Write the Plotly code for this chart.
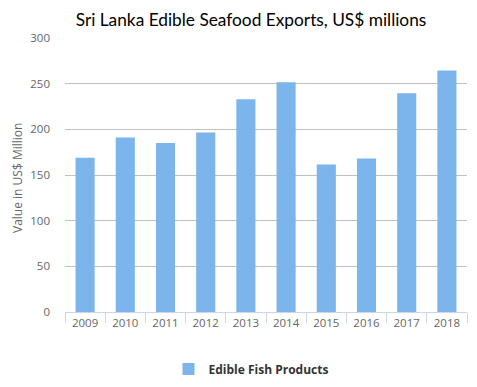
import plotly.graph_objects as go

years = ["2009", "2010", "2011", "2012", "2013", "2014", "2015", "2016", "2017", "2018"]
values = [169, 191, 185, 196.5, 233, 251.5, 161.5, 168, 239.5, 264.5]
series_name = "Edible Fish Products"
title_text = "Sri Lanka Edible Seafood Exports, US$ millions"
y_title = "Value in US$ Million"

W, H = 477, 387
OFF = 8  # page body margin offset
ml, mr, mt, mb = 65 - OFF, 10 + OFF, 38 - OFF, 75 + OFF
pw = W - ml - mr
ph = H - mt - mb

fig = go.Figure()
fig.add_trace(go.Bar(
    x=years, y=values, name=series_name,
    marker=dict(color="#7cb5ec", line=dict(width=0)),
    showlegend=True,
))

fig.update_layout(
    width=W, height=H,
    margin=dict(l=ml, r=mr, t=mt, b=mb, autoexpand=False),
    paper_bgcolor="white", plot_bgcolor="white",
    bargap=0.525,
    title=dict(text=title_text, font=dict(family="Lato", size=17.3, color="#000000"),
               x=(251 - OFF) / W, xref="container", xanchor="center",
               y=1 - (20 - OFF) / H, yref="container", yanchor="middle", automargin=False),
    xaxis=dict(type="category", tickson="boundaries", ticks="outside", ticklen=10,
               tickcolor="#ccd6eb", tickwidth=1, showline=True, linecolor="#ccd6eb",
               linewidth=1, showgrid=False, automargin=False,
               tickfont=dict(family="Open Sans", size=11.5, color="#666666")),
    yaxis=dict(range=[0, 300], dtick=50, showgrid=True, gridcolor="#c0c0c0", gridwidth=1,
               zeroline=False, showline=False, ticks="", ticklabelstandoff=14,
               automargin=False,
               tickfont=dict(family="Open Sans", size=11.5, color="#666666")),
    legend=dict(orientation="h", x=(251 - OFF) / W, xref="container", xanchor="center",
                y=1 - (369 - OFF) / H, yref="container", yanchor="middle",
                font=dict(family="Open Sans", size=12, color="#333333", weight="bold")),
    annotations=[dict(text=y_title, textangle=-90, xref="paper", yref="paper",
                      x=(17 - OFF - ml) / pw, y=(H - mb - (178 - OFF)) / ph,
                      xanchor="center", yanchor="middle", showarrow=False,
                      font=dict(family="Open Sans", size=12, color="#666666"))],
)

fig.write_html("out.html")
